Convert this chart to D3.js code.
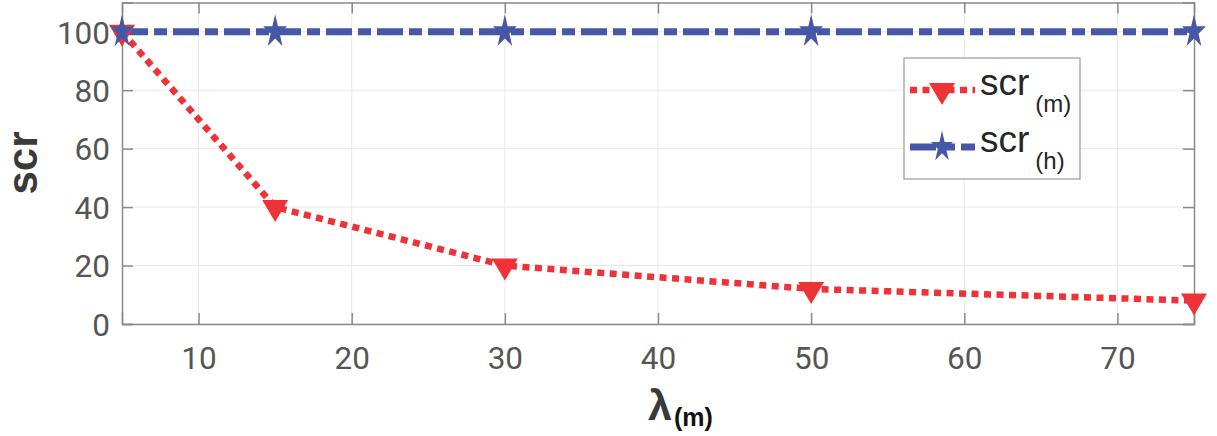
<!DOCTYPE html>
<html><head><meta charset="utf-8">
<script src="https://cdn.jsdelivr.net/npm/d3@7"></script>
<style>body{margin:0;background:#fff}svg{display:block}</style>
</head><body>
<svg id="c" width="1217" height="436"></svg>
<script>
const lambdaValues = [5, 15, 30, 50, 75];
const scrM = [100, 40, 20, 12, 8];
const scrH = [100, 100, 100, 100, 100];
const xTicks = [10, 20, 30, 40, 50, 60, 70];
const yTicks = [0, 20, 40, 60, 80, 100];
const seriesNames = ["scr", "scr"];
const seriesSubs = ["(m)", "(h)"];

const svg = d3.select("#c");
const L = 122, R = 1194, T = 2.5, B = 324;
const x = d3.scaleLinear().domain([5, 75]).range([L, R]);
const y = d3.scaleLinear().domain([0, 110]).range([B, T]);
const red = "#EE3237", blue = "#4657A7";
const axisCol = "#8a8a8a", gridCol = "#e8e8e8", tickTxt = "#555555";
const font = "Roboto, 'Liberation Sans', Arial, sans-serif";

// grid
svg.append("g").selectAll("line").data(xTicks).join("line")
  .attr("x1", d => x(d)).attr("x2", d => x(d)).attr("y1", T).attr("y2", B)
  .attr("stroke", gridCol).attr("stroke-width", 1);
svg.append("g").selectAll("line").data(yTicks).join("line")
  .attr("x1", L).attr("x2", R).attr("y1", d => y(d)).attr("y2", d => y(d))
  .attr("stroke", gridCol).attr("stroke-width", 1);

// axes via d3 axis (inside ticks)
const tl = 11;
const gB = svg.append("g").attr("transform", `translate(0,${B})`)
  .call(d3.axisBottom(x).tickValues(xTicks).tickSize(-tl).tickPadding(23));
const gT = svg.append("g").attr("transform", `translate(0,${T})`)
  .call(d3.axisTop(x).tickValues(xTicks).tickSize(-tl).tickFormat(""));
const gL = svg.append("g").attr("transform", `translate(${L},0)`)
  .call(d3.axisLeft(y).tickValues(yTicks).tickSize(-tl).tickPadding(12));
const gR = svg.append("g").attr("transform", `translate(${R},0)`)
  .call(d3.axisRight(y).tickValues(yTicks).tickSize(-tl).tickFormat(""));
[gB, gT, gL, gR].forEach(g => {
  g.select(".domain").attr("stroke", axisCol).attr("stroke-width", 1.5);
  g.selectAll(".tick line").attr("stroke", axisCol).attr("stroke-width", 1.5);
  g.selectAll("text").attr("fill", tickTxt).style("font-family", font).style("font-size", "31.5px");
});
gB.selectAll("text").attr("dy", "0.71em");
gL.selectAll("text").attr("dy", "0.36em");

// lines
const line = d3.line().x((d, i) => x(lambdaValues[i])).y(d => y(d));
svg.append("path").datum(scrM).attr("d", line).attr("fill", "none")
  .attr("stroke", red).attr("stroke-width", 6.5).attr("stroke-dasharray", "7,5.5");
svg.append("path").datum(scrH).attr("d", line).attr("fill", "none")
  .attr("stroke", blue).attr("stroke-width", 7).attr("stroke-dasharray", "26,6,13,6");

// markers
function triPath(cx, cy) {
  return `M${cx - 13},${cy - 7}L${cx + 13},${cy - 7}L${cx},${cy + 15}Z`;
}
function starPath(cx, cy, rx, ry) {
  const pts = [];
  for (let k = 0; k < 10; k++) {
    const a = -Math.PI / 2 + k * Math.PI / 5;
    const r = k % 2 === 0 ? 1 : 0.382;
    pts.push([cx + rx * r * Math.cos(a), cy + ry * r * Math.sin(a)]);
  }
  return "M" + pts.map(p => p.join(",")).join("L") + "Z";
}
svg.append("g").selectAll("path").data(scrM).join("path")
  .attr("d", (d, i) => triPath(x(lambdaValues[i]), y(d))).attr("fill", red);
svg.append("g").selectAll("path").data(scrH).join("path")
  .attr("d", (d, i) => starPath(x(lambdaValues[i]), y(d), 12.5, 17.5)).attr("fill", blue);

// axis labels
svg.append("text").attr("transform", "translate(37,163) rotate(-90)")
  .attr("text-anchor", "middle").attr("fill", "#3a3a3a")
  .style("font-family", "'Liberation Sans', Arial, sans-serif").style("font-weight", "bold").style("font-size", "42px")
  .text("scr");
const xl = svg.append("text").attr("x", 648).attr("y", 420)
  .style("font-family", "'Liberation Sans', Arial, sans-serif").style("font-weight", "bold");
xl.append("tspan").attr("fill", "#3a3a3a").style("font-size", "43px").text("λ");
xl.append("tspan").attr("fill", "#111").attr("dx", 2).attr("dy", 6).style("font-size", "25px").text("(m)");

// legend
const lg = svg.append("g");
lg.append("rect").attr("x", 904).attr("y", 58).attr("width", 176).attr("height", 121)
  .attr("fill", "#fff").attr("stroke", "#9a9a9a").attr("stroke-width", 1.2);
const legY = [90, 147];
lg.append("line").attr("x1", 910).attr("x2", 975).attr("y1", legY[0]).attr("y2", legY[0])
  .attr("stroke", red).attr("stroke-width", 6.5).attr("stroke-dasharray", "7,5.5");
lg.append("path").attr("d", triPath(942, legY[0])).attr("fill", red);
lg.append("line").attr("x1", 910).attr("x2", 975).attr("y1", legY[1]).attr("y2", legY[1])
  .attr("stroke", blue).attr("stroke-width", 7).attr("stroke-dasharray", "26,6,13,6");
lg.append("path").attr("d", starPath(942, legY[1], 11.5, 16.5)).attr("fill", blue);
seriesNames.forEach((n, i) => {
  const t = lg.append("text").attr("x", 980).attr("y", legY[i] + 5)
    .attr("fill", "#262626").style("font-family", "'Liberation Sans', Arial, sans-serif");
  t.append("tspan").style("font-size", "37px").text(n);
  t.append("tspan").attr("dx", 6).attr("dy", 17).style("font-size", "24px").text(seriesSubs[i]);
});
</script>
</body></html>
